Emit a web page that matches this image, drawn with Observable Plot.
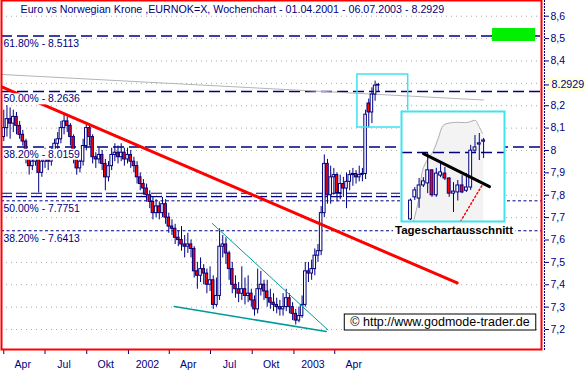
<!DOCTYPE html>
<html><head><meta charset="utf-8">
<script src="https://cdn.jsdelivr.net/npm/d3@7"></script>
<script src="https://cdn.jsdelivr.net/npm/@observablehq/plot@0.6"></script>
<style>
html,body{margin:0;padding:0;background:#fff;}
#wrap{position:relative;width:585px;height:371px;overflow:hidden;}
#wrap svg{position:absolute;left:0;top:0;}
</style></head><body><div id="wrap"></div>
<script>
// ---------- weekly candles (EUR/NOK), one per week from 01.04.2001 ----------
const weekStart = "2001-04-01";
const open = [8.06, 8.10, 8.14, 8.12, 8.15, 8.11, 8.07, 8.04, 7.96, 7.93,
 7.95, 7.97, 7.90, 7.95, 7.97, 7.95, 7.98, 8.03, 8.05, 8.10,
 8.13, 8.11, 8.06, 7.98, 7.92, 7.95, 8.02, 8.10, 8.06, 7.97,
 7.96, 7.98, 7.94, 7.88, 7.93, 7.98, 7.99, 7.97, 7.99, 7.96,
 7.98, 7.95, 7.93, 7.88, 7.85, 7.83, 7.80, 7.77, 7.72, 7.75,
 7.72, 7.76, 7.70, 7.66, 7.65, 7.61, 7.60, 7.58, 7.57, 7.58,
 7.56, 7.46, 7.44, 7.47, 7.45, 7.40, 7.42, 7.31, 7.35, 7.57,
 7.58, 7.54, 7.47, 7.40, 7.38, 7.36, 7.38, 7.35, 7.36, 7.33,
 7.29, 7.38, 7.40, 7.37, 7.34, 7.32, 7.31, 7.30, 7.29, 7.30,
 7.34, 7.30, 7.27, 7.24, 7.26, 7.31, 7.46, 7.45, 7.47, 7.53,
 7.55, 7.72, 7.94, 7.80, 7.88, 7.89, 7.81, 7.85, 7.83, 7.86,
 7.89, 7.895, 7.88, 7.89, 7.895, 8.21, 8.17, 8.25, 8.29];
const high = [8.18, 8.20, 8.19, 8.18, 8.17, 8.13, 8.09, 8.05, 7.99, 7.98,
 8.00, 7.99, 7.98, 8.01, 7.99, 8.01, 8.05, 8.08, 8.13, 8.16,
 8.15, 8.12, 8.07, 8.00, 7.99, 8.05, 8.12, 8.11, 8.07, 7.99,
 8.01, 8.00, 7.96, 7.95, 8.01, 8.03, 8.02, 8.03, 8.01, 8.01,
 8.00, 7.97, 7.95, 7.90, 7.87, 7.85, 7.82, 7.79, 7.78, 7.77,
 7.79, 7.78, 7.72, 7.69, 7.67, 7.64, 7.66, 7.62, 7.63, 7.60,
 7.57, 7.50, 7.52, 7.49, 7.47, 7.48, 7.44, 7.43, 7.65, 7.62,
 7.61, 7.55, 7.50, 7.44, 7.41, 7.48, 7.43, 7.44, 7.38, 7.35,
 7.47, 7.46, 7.42, 7.42, 7.38, 7.36, 7.34, 7.33, 7.36, 7.38,
 7.36, 7.32, 7.29, 7.30, 7.35, 7.50, 7.50, 7.51, 7.56, 7.58,
 7.75, 7.98, 7.96, 7.93, 7.92, 7.90, 7.89, 7.88, 7.90, 7.91,
 7.92, 7.91, 7.93, 7.92, 8.18, 8.23, 8.28, 8.31, 8.30];
const low = [8.04, 8.06, 8.05, 8.08, 8.07, 8.05, 8.02, 7.94, 7.89, 7.91,
 7.93, 7.81, 7.88, 7.92, 7.91, 7.93, 7.96, 8.00, 8.03, 8.07,
 8.08, 8.02, 7.94, 7.89, 7.90, 7.93, 8.00, 8.02, 7.94, 7.92,
 7.94, 7.91, 7.82, 7.86, 7.91, 7.95, 7.94, 7.95, 7.93, 7.94,
 7.92, 7.90, 7.85, 7.82, 7.80, 7.77, 7.74, 7.69, 7.70, 7.69,
 7.70, 7.67, 7.63, 7.62, 7.58, 7.57, 7.55, 7.52, 7.54, 7.52,
 7.43, 7.38, 7.41, 7.40, 7.36, 7.37, 7.29, 7.30, 7.33, 7.52,
 7.49, 7.42, 7.36, 7.34, 7.32, 7.33, 7.31, 7.32, 7.30, 7.26,
 7.27, 7.35, 7.33, 7.30, 7.29, 7.28, 7.27, 7.26, 7.26, 7.28,
 7.27, 7.24, 7.22, 7.23, 7.25, 7.30, 7.41, 7.42, 7.44, 7.50,
 7.53, 7.70, 7.76, 7.76, 7.80, 7.77, 7.78, 7.79, 7.74, 7.82,
 7.84, 7.85, 7.86, 7.86, 7.87, 8.10, 8.12, 8.22, 8.26];
const close = [8.10, 8.14, 8.12, 8.15, 8.11, 8.07, 8.04, 7.96, 7.93, 7.95,
 7.97, 7.90, 7.95, 7.97, 7.95, 7.98, 8.03, 8.05, 8.10, 8.13,
 8.11, 8.06, 7.98, 7.92, 7.95, 8.02, 8.10, 8.06, 7.97, 7.96,
 7.98, 7.94, 7.88, 7.93, 7.98, 7.99, 7.97, 7.99, 7.96, 7.98,
 7.95, 7.93, 7.88, 7.85, 7.83, 7.80, 7.77, 7.72, 7.75, 7.72,
 7.76, 7.70, 7.66, 7.65, 7.61, 7.60, 7.58, 7.57, 7.58, 7.56,
 7.46, 7.44, 7.47, 7.45, 7.40, 7.42, 7.31, 7.35, 7.57, 7.58,
 7.54, 7.47, 7.40, 7.38, 7.36, 7.38, 7.35, 7.36, 7.33, 7.29,
 7.38, 7.40, 7.37, 7.34, 7.32, 7.31, 7.30, 7.29, 7.30, 7.34,
 7.30, 7.27, 7.24, 7.26, 7.31, 7.46, 7.45, 7.47, 7.53, 7.55,
 7.72, 7.94, 7.80, 7.88, 7.89, 7.81, 7.85, 7.83, 7.86, 7.89,
 7.895, 7.88, 7.89, 7.895, 8.16, 8.17, 8.25, 8.29, 8.2929];

// ---------- axes ----------
const xTicks = ["2001-04-01","2001-07-01","2001-10-01","2002-01-01","2002-04-01","2002-07-01","2002-10-01","2003-01-01","2003-04-01"];
const xLabels = ["Apr","Jul","Okt","2002","Apr","Jul","Okt","2003","Apr"];
const yTicks = [7.2, 7.3, 7.4, 7.5, 7.6, 7.7, 7.8, 7.9, 8.0, 8.1, 8.2, 8.3, 8.4, 8.5, 8.6];
const xDomain = ["2001-03-27", "2004-06-30"];
const yDomain = [7.1107, 8.6702];

// ---------- annotations ----------
const title = "Euro vs Norwegian Krone ,EURNOK=X, Wochenchart - 01.04.2001 - 06.07.2003 - 8.2929";
const copyright = "\u00A9 http://www.godmode-trader.de";
const insetTitle = "Tageschartausschnitt";
const fibLabels = ["61.80%", "50.00%", "38.20%", "50.00%", "38.20%"];
const fibValues = [8.5113, 8.2636, 8.0159, 7.7751, 7.6413];
const fibStyles = ["long", "long", "long", "short", "short"];
const supportValues = [7.809, 7.794];
const supportEnd = "2003-08-26";
const redTrend = [{date: "2001-03-29", value: 8.2836}, {date: "2003-12-27", value: 7.4079}];
const longAverage = [{date: "2001-03-29", value: 8.3395}, {date: "2004-02-23", value: 8.2256}];
const wedgeUpper = [{date: "2002-07-05", value: 7.6737}, {date: "2003-03-17", value: 7.1978}];
const wedgeLower = [{date: "2002-04-12", value: 7.3029}, {date: "2003-03-13", value: 7.1911}];
const zoomBox = [{x1: "2003-05-21", x2: "2003-09-10", y1: 8.1027, y2: 8.3395}];
const targetBox = [{x1: "2004-03-14", x2: "2004-06-17", y1: 8.487, y2: 8.545}];
const insetLabelAt = {date: "2003-12-20", value: 7.6413};

// ---------- daily inset (Tageschart) ----------
const dOpen  = [8.100, 8.154, 8.151, 8.183, 8.188, 8.220, 8.159, 8.207, 8.212, 8.200, 8.163, 8.166, 8.183, 8.170, 8.178, 8.268, 8.283, 8.290];
const dHigh  = [8.150, 8.178, 8.200, 8.202, 8.261, 8.220, 8.225, 8.237, 8.227, 8.202, 8.190, 8.195, 8.207, 8.212, 8.281, 8.305, 8.310, 8.298];
const dLow   = [8.097, 8.146, 8.127, 8.178, 8.163, 8.154, 8.154, 8.202, 8.195, 8.154, 8.117, 8.145, 8.163, 8.166, 8.171, 8.264, 8.244, 8.249];
const dClose = [8.146, 8.171, 8.183, 8.193, 8.220, 8.159, 8.212, 8.215, 8.200, 8.163, 8.168, 8.183, 8.166, 8.178, 8.268, 8.276, 8.286, 8.293];
const insetShade = [{k: 0.7, v: 8.095}, {k: 1.86, v: 8.146}, {k: 3.02, v: 8.227}, {k: 5.35, v: 8.268}, {k: 6.51, v: 8.300}, {k: 7.67, v: 8.330}, {k: 10.0, v: 8.337}, {k: 13.26, v: 8.337}, {k: 15.1, v: 8.342}, {k: 15.8, v: 8.330}, {k: 16.74, v: 8.310}, {k: 17.05, v: 8.298}];
const insetTrend = [{k: 3.02, v: 8.261}, {k: 18.37, v: 8.180}];
const insetRed = [{k: 11.63, v: 8.095}, {k: 16.74, v: 8.185}];
const insetX = [-2.09, 21.86];
const insetY = [8.0949, 8.3638];

// ---------- build ----------
const navy = "#000080", red = "#ff0000", teal = "#009a9a", cyan = "#3de3ef", green = "#00f000";
const font = '"Liberation Sans", Arial, sans-serif';
const D = s => new Date(s);
const start = D(weekStart);
const candles = close.map((c, i) => ({date: d3.utcDay.offset(start, 7 * i), open: open[i], high: high[i], low: low[i], close: c}));
const half = 2.8 * 864e5;
const fib = fibValues.map((v, i) => ({label: fibLabels[i], value: v, style: fibStyles[i]}));
const last = close[close.length - 1];
const xt = xTicks.map(D);
const fmtY = d => String(Math.round(d * 10) / 10).replace(".", ",");
const axisTicks = yTicks.filter(t => Math.abs(t - last) > 0.03); // the last-price label sits over 8,3
const wrap = document.getElementById("wrap");

const main = Plot.plot({
  width: 585, height: 371,
  marginLeft: 1, marginRight: 44, marginTop: 0, marginBottom: 22,
  style: {background: "white", fontFamily: font, overflow: "visible", color: navy},
  x: {type: "utc", domain: xDomain.map(D), axis: null},
  y: {domain: yDomain, axis: null},
  marks: [
    Plot.ruleY(yTicks, {stroke: "#a8a8a8", strokeDasharray: "1,4"}),
    Plot.ruleY(fib.filter(d => d.style === "long"), {y: "value", stroke: navy, strokeWidth: 1.5, strokeDasharray: "11,5"}),
    Plot.ruleY(fib.filter(d => d.style === "short"), {y: "value", stroke: navy, strokeWidth: 1, strokeDasharray: "3,2.5"}),
    Plot.ruleY(supportValues, {y: d => d, x1: () => D(xDomain[0]), x2: () => D(supportEnd), stroke: navy, strokeWidth: 1.2, strokeDasharray: "11,4"}),
    Plot.line(longAverage, {x: d => D(d.date), y: "value", stroke: "#b4b4b4", strokeWidth: 1}),
    Plot.ruleX(candles, {x: "date", y1: "low", y2: "high", stroke: navy, strokeWidth: 1}),
    Plot.rect(candles, {x1: d => new Date(+d.date - half), x2: d => new Date(+d.date + half), y1: "open", y2: "close",
      fill: d => d.close < d.open ? red : "white", stroke: navy, strokeWidth: 1}),
    Plot.line(wedgeUpper, {x: d => D(d.date), y: "value", stroke: teal, strokeWidth: 1}),
    Plot.line(wedgeLower, {x: d => D(d.date), y: "value", stroke: teal, strokeWidth: 1.6}),
    Plot.line(redTrend, {x: d => D(d.date), y: "value", stroke: red, strokeWidth: 3}),
    Plot.rect(zoomBox, {x1: d => D(d.x1), x2: d => D(d.x2), y1: "y1", y2: "y2", fill: "none", stroke: cyan, strokeWidth: 1.5}),
    Plot.rect(targetBox, {x1: d => D(d.x1), x2: d => D(d.x2), y1: "y1", y2: "y2", fill: green}),
    Plot.text(fib, {y: "value", text: d => `${d.label} - ${d.value.toFixed(4)}`, frameAnchor: "left", dx: 2, dy: 7.5,
      textAnchor: "start", lineAnchor: "middle", fill: navy, fontSize: 10.4}),
    Plot.text([insetTitle], {x: () => D(insetLabelAt.date), y: () => insetLabelAt.value, text: d => d, fill: "black",
      fontWeight: "bold", fontSize: 11.5, textAnchor: "middle", lineAnchor: "middle"}),
    Plot.text([title], {frameAnchor: "top-left", text: d => d, dx: 19, dy: 9, textAnchor: "start", lineAnchor: "middle", fill: navy, fontSize: 10.7}),
    Plot.text([copyright], {frameAnchor: "bottom-right", text: d => d, dx: -101.5, dy: -27.5, textAnchor: "middle", lineAnchor: "middle",
      fill: "black", fontSize: 12.5}),
    Plot.axisY({anchor: "right", ticks: axisTicks, tickFormat: fmtY, dx: 3, tickSize: 4, tickPadding: 2, fontSize: 10.5, stroke: navy, fill: navy}),
    Plot.axisY({anchor: "right", ticks: [last], tickFormat: d => d.toFixed(4), dx: 3, tickSize: 4, tickPadding: 3, fontSize: 10.7, stroke: navy, fill: navy}),
    Plot.axisX({anchor: "bottom", ticks: xt, tickFormat: () => "", tickSize: 5, stroke: navy}),
    Plot.axisX({anchor: "bottom", ticks: xt, tickFormat: d => xLabels[xt.findIndex(t => +t === +d)], tickSize: 0, tickPadding: 11,
      dx: 19, fontSize: 10.5, fill: navy}),
    Plot.frame({stroke: red, strokeWidth: 2}),
    Plot.frame({anchor: "right", dx: 3, stroke: navy, strokeDasharray: "1,2"})
  ]
});

const inset = Plot.plot({
  width: 105, height: 112, margin: 1,
  style: {background: "white", overflow: "visible"},
  x: {domain: insetX, axis: null},
  y: {domain: insetY, axis: null},
  marks: [
    Plot.areaY(insetShade, {x: "k", y1: () => insetY[0], y2: "v", fill: "#f3f3f3", curve: "catmull-rom"}),
    Plot.line(insetShade.slice(0, -1), {x: "k", y: "v", stroke: "#b0b0b0", strokeWidth: 1, curve: "catmull-rom"}),
    Plot.ruleY([fibValues[1]], {stroke: navy, strokeWidth: 1.5, strokeDasharray: "11,5"}),
    Plot.ruleX(dClose, {x: (d, i) => i, y1: (d, i) => dLow[i], y2: (d, i) => dHigh[i], stroke: navy}),
    Plot.rect(dClose, {x1: (d, i) => i - 0.33, x2: (d, i) => i + 0.33, y1: (d, i) => dOpen[i], y2: d => d,
      fill: (d, i) => d < dOpen[i] ? red : "white", stroke: navy}),
    Plot.line(insetTrend, {x: "k", y: "v", stroke: "black", strokeWidth: 3}),
    Plot.line(insetRed, {x: "k", y: "v", stroke: red, strokeWidth: 1.5, strokeDasharray: "1.5,2.5"}),
    Plot.frame({stroke: cyan, strokeWidth: 2})
  ]
});

wrap.appendChild(main);
inset.style.left = "400px";
inset.style.top = "110px";
wrap.appendChild(inset);

// ---------- label backgrounds derived from the rendered text ----------
try {
  const NS = "http://www.w3.org/2000/svg";
  const sRect = main.getBoundingClientRect();
  const texts = [...main.querySelectorAll("text")];
  const topGroup = el => { let n = el; while (n.parentNode && n.parentNode !== main) n = n.parentNode; return n; };
  function box(textEl, before, o) {
    const r = textEl.getBoundingClientRect();
    const e = document.createElementNS(NS, "rect");
    const x0 = r.left - sRect.left - o.l;
    const x1 = o.right != null ? o.right : r.right - sRect.left + o.r;
    e.setAttribute("x", x0);
    e.setAttribute("y", r.top - sRect.top - o.t);
    e.setAttribute("width", Math.max(0, x1 - x0));
    e.setAttribute("height", r.height + o.t + o.b);
    e.setAttribute("fill", o.fill);
    if (o.stroke) { e.setAttribute("stroke", o.stroke); e.setAttribute("stroke-width", 1); }
    main.insertBefore(e, before);
  }
  texts.filter(t => /%\s-\s/.test(t.textContent)).forEach(t => box(t, topGroup(t), {l: 1, r: 1, t: 0, b: 0, fill: "white"}));
  texts.filter(t => t.textContent === insetTitle).forEach(t => box(t, topGroup(t), {l: 2, r: 2, t: 0, b: 0, fill: "white"}));
  texts.filter(t => t.textContent === copyright).forEach(t => box(t, topGroup(t), {l: 6, r: 6, t: 1, b: 1, fill: "white", stroke: "black"}));
  const lt = texts.find(t => t.textContent === last.toFixed(4));
  if (lt) {
    const g = topGroup(lt);
    const before = g.previousElementSibling || g;
    box(lt, before, {l: 8, right: 585, t: 1, b: 1, fill: "#ffffe0"});
  }
} catch (err) { /* backgrounds are cosmetic */ }
</script></body></html>
